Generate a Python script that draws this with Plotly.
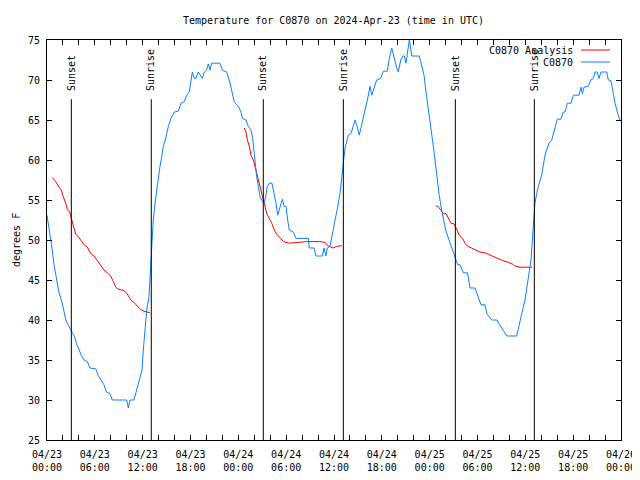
import pandas as pd
import plotly.graph_objects as go

BASE = pd.Timestamp("2024-04-23 00:00")

# C0870 observations: hours since 2024-04-23 00:00 UTC, degrees F
obs_hours = [0.0, 0.21, 0.46, 0.66, 0.88, 1.09, 1.29, 1.51, 1.92, 2.13, 2.35, 2.85, 3.17, 3.47, 3.68,
             4.01, 4.30, 4.64, 5.06, 5.39, 6.11, 6.40, 6.81, 7.15, 7.44, 7.90, 8.19, 10.0, 10.2, 10.41,
             10.91, 11.25, 11.67, 11.92, 12.08, 12.29, 12.51, 12.79, 13.01, 13.13, 13.33, 13.55, 13.76,
             13.96, 14.17, 14.39, 14.59, 14.89, 15.22, 15.55, 15.97, 16.47, 16.81, 17.22, 17.52, 17.85,
             18.06, 18.23, 18.48, 18.69, 18.98, 19.48, 19.73, 20.03, 20.23, 20.45, 20.66, 21.70, 21.99,
             22.54, 22.96, 23.24, 23.50, 24.0, 24.34, 24.50, 24.96, 25.25, 25.59, 25.80, 25.97, 26.18,
             26.30, 26.51, 26.72, 26.93, 27.22, 27.43, 27.63, 27.88, 28.22, 28.47, 28.73, 28.94, 29.23,
             29.52, 29.73, 29.98, 30.19, 30.39, 30.90, 31.23, 32.78, 32.90, 33.49, 33.74, 34.53, 34.75,
             34.96, 35.16, 35.50, 35.84, 36.13, 36.47, 36.75, 36.97, 37.17, 37.38, 37.59, 37.79, 38.13,
             38.42, 38.64, 38.85, 39.17, 39.47, 39.76, 40.01, 40.27, 40.52, 40.73, 41.02, 41.36, 41.86,
             42.19, 42.69, 42.94, 43.24, 43.53, 43.87, 44.07, 44.37, 44.62, 44.82, 45.03, 45.32, 45.45,
             45.62, 45.75, 46.70, 47.0, 47.29, 47.54, 47.83, 48.04, 48.46, 48.67, 48.88, 49.17, 49.42,
             49.71, 50.01, 50.43, 50.76, 51.18, 51.52, 51.81, 52.22, 52.75, 53.06, 53.69, 54.10, 54.44,
             54.94, 55.16, 55.78, 56.45, 57.04, 57.67, 58.92, 59.25, 59.55, 59.96, 60.37, 60.71, 61.0,
             61.21, 61.43, 61.63, 62.05, 62.25, 62.47, 62.68, 62.97, 63.31, 63.51, 63.81, 64.01, 64.48,
             64.76, 64.98, 65.27, 65.73, 66.02, 66.73, 66.98, 67.15, 67.36, 67.90, 68.20, 68.53, 68.74,
             69.03, 69.24, 69.49, 70.21, 70.41, 70.75, 71.04, 71.25, 71.59, 71.75, 71.87]
obs_temps = [53.1, 51.7, 50.4, 48.75, 46.9, 45.6, 44.6, 43.4, 42.1, 41.25, 40.0, 39.0, 38.5, 37.9, 37.1,
             36.25, 35.6, 35.0, 34.8, 34.0, 33.9, 33.1, 32.5, 31.9, 31.0, 30.8, 30.0, 30.0, 29.0, 30.0,
             30.0, 31.25, 32.9, 33.75, 36.25, 38.5, 41.25, 42.9, 46.7, 48.4, 52.5, 54.6, 56.25,
             57.5, 59.2, 60.4, 61.7, 62.7, 64.2, 65.2, 66.0, 66.1, 67.1, 67.3, 68.1, 68.5,
             69.8, 71.0, 70.2, 70.2, 71.0, 70.2, 71.0, 71.25, 72.0, 71.25, 72.1, 72.1, 71.2,
             71.0, 69.6, 68.5, 67.2, 66.7, 66.0, 65.2, 65.0, 64.2, 63.75, 62.7, 60.8, 59.2,
             57.9, 56.7, 55.4, 55.0, 54.6, 55.4, 56.7, 57.1, 57.1, 55.8, 54.6, 53.1, 54.2,
             55.1, 54.2, 54.2, 52.5, 51.25, 51.0, 50.2, 50.2, 49.0, 49.0, 48.0, 48.0, 49.0,
             48.0, 49.0, 49.2, 50.8, 52.5, 54.2, 55.8, 57.8, 59.9, 61.5, 62.3, 63.1, 63.3,
             64.4, 65.0, 64.4, 63.1, 64.4, 65.6, 66.9, 67.9, 69.2, 68.1, 69.0, 70.0, 70.2,
             71.1, 71.1, 72.7, 74.0, 72.7, 71.5, 71.0, 72.5, 73.0, 73.0, 72.1, 74.0, 75.0,
             74.0, 73.0, 73.0, 71.9, 70.6, 68.5, 66.5, 64.7, 61.7, 60.0, 57.9, 55.8, 54.2,
             52.5, 51.25, 50.0, 49.0, 47.9, 46.9, 46.9, 45.9, 45.9, 44.0, 44.0, 42.9, 41.9,
             41.9, 40.8, 40.0, 40.0, 39.0, 38.0, 38.0, 39.6, 40.8, 42.5, 45.0, 47.5, 51.7,
             54.6, 55.8, 56.7, 58.1, 59.6, 60.6, 61.25, 62.1, 62.5, 63.3, 64.4, 65.1, 65.1,
             66.0, 66.0, 67.1, 67.1, 68.1, 68.1, 69.1, 68.3, 69.1, 69.2, 70.0, 70.2, 71.0,
             71.0, 70.2, 71.0, 71.0, 70.0, 69.9, 68.3, 67.1, 65.8, 65.1, 65.0]

# C0870 Analysis: three separate runs
ana1_hours = [0.66, 1.09, 1.51, 1.79, 2.04, 2.35, 2.55, 2.85, 3.05, 3.30, 3.60, 4.01, 4.30, 4.64, 5.06,
              5.48, 5.90, 6.31, 6.74, 7.15, 7.56, 7.99, 8.32, 8.62, 9.03, 9.66, 10.07, 10.50, 10.91,
              11.33, 11.75, 12.17, 12.58, 12.92]
ana1_temps = [57.8, 57.3, 56.6, 56.25, 55.4, 54.6, 53.8, 53.5, 52.7, 51.7, 50.75, 50.3, 49.9, 49.4, 49.1,
              48.3, 48.0, 47.4, 46.75, 46.25, 45.9, 45.5, 44.8, 44.1, 43.8, 43.7, 43.25, 42.5, 42.2,
              41.7, 41.3, 41.1, 41.0, 40.9]
ana2_hours = [24.75, 24.96, 25.13, 25.38, 25.59, 25.88, 26.09, 26.38, 26.59, 26.84, 27.13, 27.35, 27.56,
              27.88, 28.19, 28.51, 28.81, 29.23, 29.64, 30.39, 31.32, 32.58, 34.24, 34.87, 35.29, 35.91,
              36.34, 36.97]
ana2_temps = [64.0, 63.5, 62.5, 61.7, 60.6, 60.0, 59.2, 58.1, 57.3, 56.25, 55.4, 54.2, 53.3,
              52.7, 52.1, 51.25, 50.7, 50.3, 49.8, 49.6, 49.7, 49.8, 49.8, 49.7, 49.25, 49.0,
              49.2, 49.3]
ana3_hours = [48.76, 49.05, 49.42, 49.71, 50.05, 50.34, 50.68, 51.09, 51.39, 51.72, 52.14, 52.43, 52.72,
              53.27, 53.69, 54.31, 54.94, 55.57, 56.19, 56.70, 57.24, 57.86, 58.37, 58.71, 59.33, 60.88]
ana3_temps = [54.25, 54.2, 53.7, 53.3, 53.3, 52.7, 52.1, 52.0, 51.25, 50.6, 50.2, 49.6, 49.25,
              49.0, 48.75, 48.5, 48.4, 48.1, 47.8, 47.6, 47.4, 47.2, 47.0, 46.75, 46.6, 46.6]

# Sun events (hours since start)
sun_hours = [3.05, 13.08, 27.13, 37.17, 51.22, 61.13]
sun_labels = ["Sunset", "Sunrise", "Sunset", "Sunrise", "Sunset", "Sunrise"]

tick_hours = list(range(0, 73, 2))

FONT = "DejaVu Sans Mono"
BLUE = "#0a80ff"
RED = "#ff0000"

# page body has an 8px margin: figure is 632x472 placed at (8, 8)
FIG_W, FIG_H = 632, 472


def to_time(hours):
    return [BASE + pd.Timedelta(hours=h) for h in hours]


ana_x, ana_y = [], []
for hs, ts in [(ana1_hours, ana1_temps), (ana2_hours, ana2_temps), (ana3_hours, ana3_temps)]:
    if ana_x:
        ana_x.append(to_time([hs[0]])[0])
        ana_y.append(None)
    ana_x.extend(to_time(hs))
    ana_y.extend(ts)

fig = go.Figure()
fig.add_trace(go.Scatter(x=ana_x, y=ana_y, mode="lines", name="C0870 Analysis",
                         line=dict(color=RED, width=1), connectgaps=False))
fig.add_trace(go.Scatter(x=to_time(obs_hours), y=obs_temps, mode="lines", name="C0870",
                         line=dict(color=BLUE, width=1)))

for h, lab in zip(sun_hours, sun_labels):
    t = to_time([h])[0]
    fig.add_shape(type="line", xref="x", yref="paper", x0=t, x1=t, y0=0, y1=0.852,
                  line=dict(color="black", width=1))
    fig.add_annotation(x=t, xref="x", y=0.868, yref="paper", text=lab, textangle=-90,
                       showarrow=False, xanchor="center", yanchor="bottom",
                       font=dict(family=FONT, size=10, color="black"))

# manual legend (text right-aligned, sample line to the right)
for i, (name, col) in enumerate([("C0870 Analysis", RED), ("C0870", BLUE)]):
    ypx = 50 + 12 * i
    yp = (440 - ypx) / 400
    fig.add_annotation(x=(575 - 47) / 574, xref="paper", y=yp, yref="paper", text=name,
                       showarrow=False, xanchor="right", yanchor="middle",
                       font=dict(family=FONT, size=10, color="black"))
    fig.add_shape(type="line", xref="paper", yref="paper", x0=(581 - 47) / 574, x1=(610 - 47) / 574,
                  y0=yp, y1=yp, line=dict(color=col, width=1))

fig.add_annotation(x=(16 - 47) / 574, xref="paper", y=0.5, yref="paper", text="degrees F",
                   textangle=-90, showarrow=False, xanchor="center", yanchor="middle",
                   font=dict(family=FONT, size=10, color="black"))

tick_vals = to_time(tick_hours)
tick_text = [t.strftime("%m/%d") + "<br>" + t.strftime("%H:%M") if h % 6 == 0 else ""
             for h, t in zip(tick_hours, tick_vals)]

fig.update_layout(
    width=FIG_W, height=FIG_H,
    margin=dict(l=39, r=19, t=32, b=40, autoexpand=False),
    paper_bgcolor="white", plot_bgcolor="white",
    showlegend=False,
    title=dict(text="Temperature for C0870 on 2024-Apr-23 (time in UTC)",
               x=(39 + 573 / 2) / FIG_W,
               xanchor="center", y=1 - 12 / FIG_H, yanchor="middle",
               font=dict(family=FONT, size=10, color="black"), automargin=False),
    font=dict(family=FONT, size=10, color="black"),
)
fig.update_xaxes(range=[BASE, BASE + pd.Timedelta(hours=72)], tickvals=tick_vals, ticktext=tick_text,
                 ticks="inside", ticklen=5, tickcolor="black", showline=True, linecolor="black",
                 linewidth=1, mirror="ticks", showgrid=False, zeroline=False, automargin=False,
                 ticklabelstandoff=5,
                 tickfont=dict(family=FONT, size=10, color="black"))
fig.update_yaxes(range=[25, 75], dtick=5, tick0=25, ticks="inside", ticklen=5, tickcolor="black",
                 showline=True, linecolor="black", linewidth=1, mirror="ticks", showgrid=False,
                 zeroline=False, ticklabelstandoff=4, automargin=False,
                 tickfont=dict(family=FONT, size=10, color="black"))

fig.write_html("out.html")
